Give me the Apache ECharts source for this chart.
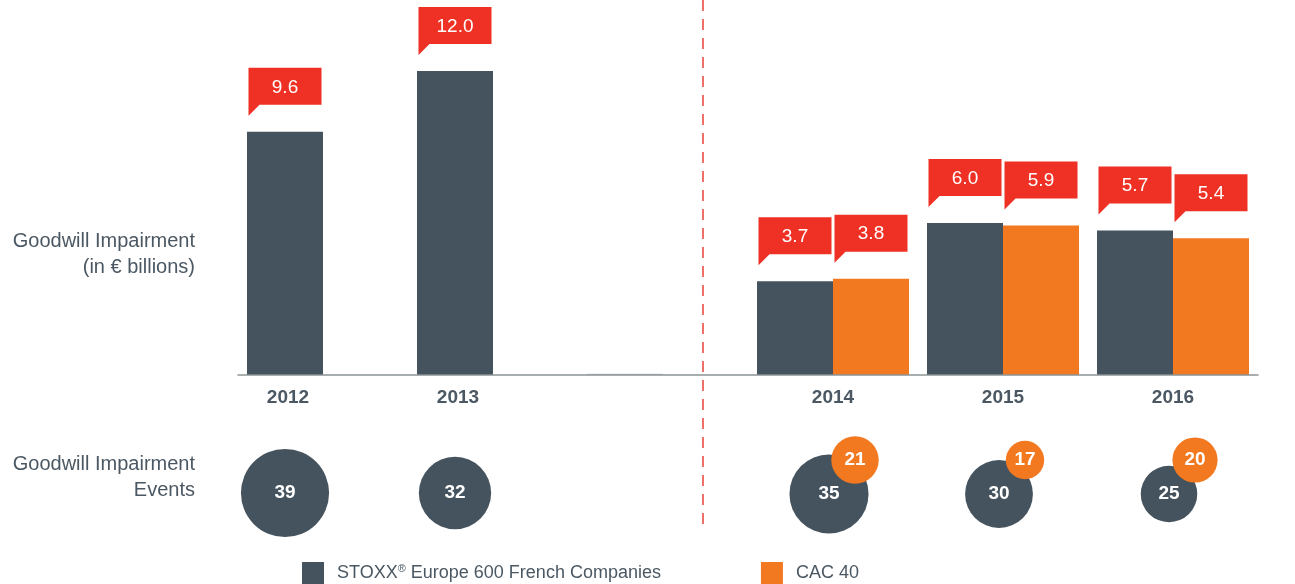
<!DOCTYPE html>
<html>
<head>
<meta charset="utf-8">
<title>Goodwill Impairment</title>
<script src="https://cdn.jsdelivr.net/npm/echarts@6/dist/echarts.min.js"></script>
<style>
  html, body { margin: 0; padding: 0; background: #ffffff; }
  #chart { width: 1295px; height: 584px; }
</style>
</head>
<body>
<div id="chart"></div>
<script>
// Years on the shared category axis; the blank slot separates the two periods
const years = ['2012', '2013', '', '2014', '2015', '2016'];
// Goodwill impairment, € billions (the blank slot carries only a hairline stub)
const stoxxImpairment = [9.6, 12.0, 0.05, 3.7, 6.0, 5.7];
const cacImpairment = [null, null, null, 3.8, 5.9, 5.4];
// Number of goodwill impairment events
const stoxxEvents = [39, 32, null, 35, 30, 25];
const cacEvents = [null, null, null, 21, 17, 20];

const STOXX_NAME = 'STOXX® Europe 600 French Companies';
const CAC_NAME = 'CAC 40';

const SLATE = '#45535e';
const ORANGE = '#f37920';
const RED = '#ee3124';
const TEXT = '#4b5863';
const FONT = '"Liberation Sans", Arial, Helvetica, sans-serif';

const BAR_W = 76;
const BUBBLE_SCALE = 2.26;
const MIN_FLAGGED = 0.5;

// A year that only has STOXX data keeps its bar left of the slot centre
const soloYear = i => cacImpairment[i] == null;

// Red value flag above a bar: box with a small tail at its lower-left corner
function calloutSeries(values, side) {
  const data = [];
  values.forEach((v, i) => { if (v != null && v >= MIN_FLAGGED) data.push([i, v]); });
  return {
    type: 'custom',
    xAxisIndex: 0, yAxisIndex: 0,
    clip: false,
    silent: true,
    z: 5,
    data: data,
    renderItem: function (params, api) {
      const v = api.value(1);
      const p = api.coord([api.value(0), v]);
      const cx = p[0] + side * BAR_W / 2;
      const w = 73, h = 37, gap = 27, tail = 11;
      const l = cx - w / 2, r = cx + w / 2;
      const bottom = p[1] - gap, top = bottom - h;
      return {
        type: 'group',
        children: [
          {
            type: 'polygon',
            shape: { points: [[l, top], [r, top], [r, bottom], [l + tail, bottom], [l, bottom + tail]] },
            style: { fill: RED }
          },
          {
            type: 'text',
            style: {
              text: v.toFixed(1),
              x: cx, y: (top + bottom) / 2 + 1,
              align: 'center', verticalAlign: 'middle',
              fill: '#ffffff',
              fontSize: 19, fontFamily: FONT
            }
          }
        ]
      };
    }
  };
}

const bubbleLabel = {
  show: true,
  position: 'inside',
  color: '#ffffff',
  fontSize: 19,
  fontWeight: 'bold',
  fontFamily: FONT,
  formatter: p => String(p.value[2])
};

function bubbleData(values, offsetFor) {
  const out = [];
  values.forEach((v, i) => {
    if (v == null) return;
    out.push({ value: [i, 0, v], symbolOffset: offsetFor(i) });
  });
  return out;
}

const chart = echarts.init(document.getElementById('chart'), null, { renderer: 'canvas' });

const option = {
  backgroundColor: '#ffffff',
  animation: false,
  textStyle: { fontFamily: FONT },
  grid: [
    { left: 238, width: 1020, top: 71, height: 304 },
    { left: 238, width: 1020, top: 443, height: 100 }
  ],
  xAxis: [
    {
      type: 'category', gridIndex: 0, data: years,
      z: 4,
      axisLine: { lineStyle: { color: '#8c9297', width: 1.5 } },
      axisTick: { show: false },
      axisLabel: {
        interval: 0,
        margin: 13,
        formatter: (v, i) => soloYear(i) ? '{solo|' + v + '}' : '{pair|' + v + '}',
        rich: {
          solo: { padding: [0, BAR_W - 6, 0, 0], fontSize: 19, fontWeight: 'bold', color: TEXT, fontFamily: FONT },
          pair: { fontSize: 19, fontWeight: 'bold', color: TEXT, fontFamily: FONT }
        }
      }
    },
    {
      type: 'category', gridIndex: 1, data: years,
      axisLine: { show: false }, axisTick: { show: false }, axisLabel: { show: false }
    }
  ],
  yAxis: [
    { type: 'value', gridIndex: 0, min: 0, max: 12, show: false },
    { type: 'value', gridIndex: 1, min: -1, max: 1, show: false }
  ],
  legend: {
    data: [STOXX_NAME, CAC_NAME],
    left: 297, top: 557,
    icon: 'rect',
    itemWidth: 22, itemHeight: 23,
    itemGap: 100,
    selectedMode: false,
    formatter: name => name === STOXX_NAME
      ? '{t|STOXX}{sup|®}{t| Europe 600 French Companies}'
      : '{t|' + name + '}',
    textStyle: {
      padding: [0, 0, 0, 8],
      rich: {
        t: { fontSize: 18, color: TEXT, fontFamily: FONT },
        sup: { fontSize: 11, color: TEXT, fontFamily: FONT, padding: [0, 0, 9, 0] }
      }
    }
  },
  graphic: [
    {
      type: 'text', x: 195, y: 254,
      style: {
        text: 'Goodwill Impairment\n(in € billions)',
        align: 'right', verticalAlign: 'middle',
        fontSize: 20, lineHeight: 26, fill: TEXT, fontFamily: FONT
      }
    },
    {
      type: 'text', x: 195, y: 477,
      style: {
        text: 'Goodwill Impairment\nEvents',
        align: 'right', verticalAlign: 'middle',
        fontSize: 20, lineHeight: 26, fill: TEXT, fontFamily: FONT
      }
    },
    {
      type: 'line',
      shape: { x1: 703, y1: 0, x2: 703, y2: 528 },
      style: { stroke: '#e8423b', lineWidth: 1.5, lineDash: [11, 8] },
      z: 10
    }
  ],
  series: [
    {
      name: STOXX_NAME,
      type: 'bar',
      xAxisIndex: 0, yAxisIndex: 0,
      barWidth: BAR_W, barGap: '0%',
      barMinHeight: 0,
      itemStyle: { color: SLATE },
      data: stoxxImpairment.map(v => v < MIN_FLAGGED
        ? { value: v, itemStyle: { color: '#c3c7cb' } }
        : v)
    },
    {
      name: CAC_NAME,
      type: 'bar',
      xAxisIndex: 0, yAxisIndex: 0,
      barWidth: BAR_W, barGap: '0%',
      itemStyle: { color: ORANGE },
      data: cacImpairment
    },
    calloutSeries(stoxxImpairment, -1),
    calloutSeries(cacImpairment, 1),
    {
      name: 'STOXX events',
      type: 'scatter',
      xAxisIndex: 1, yAxisIndex: 1,
      symbol: 'circle',
      symbolSize: val => val[2] * BUBBLE_SCALE,
      itemStyle: { color: SLATE, opacity: 1 },
      label: bubbleLabel,
      z: 2,
      data: bubbleData(stoxxEvents, i => soloYear(i) ? [-BAR_W / 2, 0] : [-4, 1])
    },
    {
      name: 'CAC 40 events',
      type: 'scatter',
      xAxisIndex: 1, yAxisIndex: 1,
      symbol: 'circle',
      symbolSize: val => val[2] * BUBBLE_SCALE,
      itemStyle: { color: ORANGE, opacity: 1 },
      label: bubbleLabel,
      z: 3,
      data: bubbleData(cacEvents, () => [22, -33])
    }
  ]
};

chart.setOption(option);
</script>
</body>
</html>
